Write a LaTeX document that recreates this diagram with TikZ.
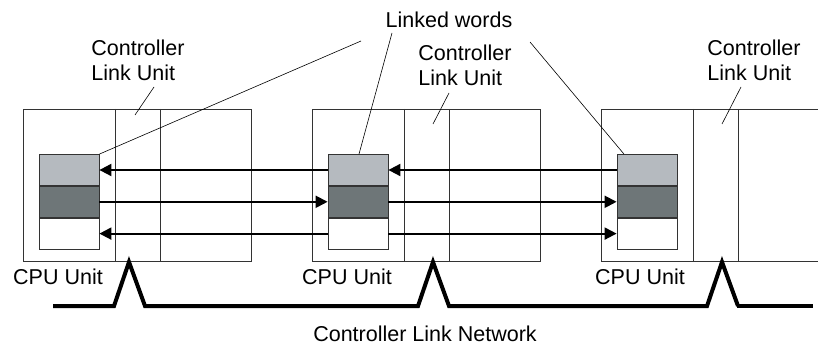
\documentclass[tikz,border=0pt]{standalone}
\usepackage{fontspec}
\setmainfont{Liberation Sans}
\usetikzlibrary{arrows.meta,positioning}
\definecolor{wordlight}{RGB}{181,186,191}
\definecolor{worddark}{RGB}{110,118,120}

\begin{document}
\begin{tikzpicture}[x=1pt,y=-1pt,>={Triangle[length=12pt,width=12pt]},
  unit/.style={draw=black!80,line width=0.8pt},
  band/.style={draw=black!80,line width=0.8pt,minimum width=60pt,minimum height=31pt,inner sep=0pt},
  link/.style={->,line width=2pt},
  lead/.style={line width=0.6pt},
  lbl/.style={font=\fontsize{21.5}{25}\selectfont,align=left,inner sep=0pt}]
  \useasboundingbox (0,0) rectangle (818,347);

  % the three PLCs
  \foreach \i in {0,1,2}{
    \pgfmathsetmacro{\dx}{289*\i}
    \begin{scope}[xshift=\dx]
      \draw[unit] (115,109) -- (115,261);
      \draw[unit] (160,109) -- (160,261);
      \node[band,fill=wordlight] (w\i a) at (69,170) {};
      \node[band,fill=worddark,below=0pt of w\i a] (w\i b) {};
      \node[band,fill=white,below=0pt of w\i b] (w\i c) {};
    \end{scope}
  }
  \draw[unit] (23,109) rectangle (251,261);
  \draw[unit] (312,109) rectangle (540,261);
  \draw[unit] (818,109) -- (601,109) -- (601,261) -- (818,261);

  % data links
  \draw[link] (w1a.west) -- (w0a.east);
  \draw[link] (w2a.west) -- (w1a.east);
  \draw[link] (w0b.east) -- (w1b.west);
  \draw[link] (w1b.east) -- (w2b.west);
  \draw[link] (w1c.west) -- (w0c.east);
  \draw[link] (w1c.east) -- (w2c.west);

  % labels
  \node[lbl] (lw) at (449,20) {Linked words};
  \node[lbl] (clu1) at (138,60) {Controller\\Link Unit};
  \node[lbl] (clu2) at (465,65) {Controller\\Link Unit};
  \node[lbl] (clu3) at (754,60) {Controller\\Link Unit};
  \node[lbl] (cpu1) at (58,277) {CPU Unit};
  \node[lbl] (cpu2) at (347,277) {CPU Unit};
  \node[lbl] (cpu3) at (640,277) {CPU Unit};
  \node[lbl] (net) at (425,334) {Controller Link Network};

  % leader lines
  \draw[lead] (154,87) -- (135,115);
  \draw[lead] (449,93) -- (433,124);
  \draw[lead] (741,87) -- (722,124);
  \draw[lead] (361,41) -- (w0a.north east);
  \draw[lead] (392,33) -- ([xshift=1pt]w1a.north);
  \draw[lead] (530,42) -- ([xshift=-23pt]w2a.north);

  % network cable
  \coordinate (p1) at (129,262);
  \coordinate (p2) at (433,262);
  \coordinate (p3) at (722,262);
  \draw[line width=4pt,line join=miter]
    (53,306) -- (114,306) -- (p1) -- (145,306) -- (418,306) -- (p2)
    -- (449,306) -- (707,306) -- (p3) -- (738,306);
  \draw[line width=3.2pt] (737,306) -- (813,306);
\end{tikzpicture}
\end{document}
